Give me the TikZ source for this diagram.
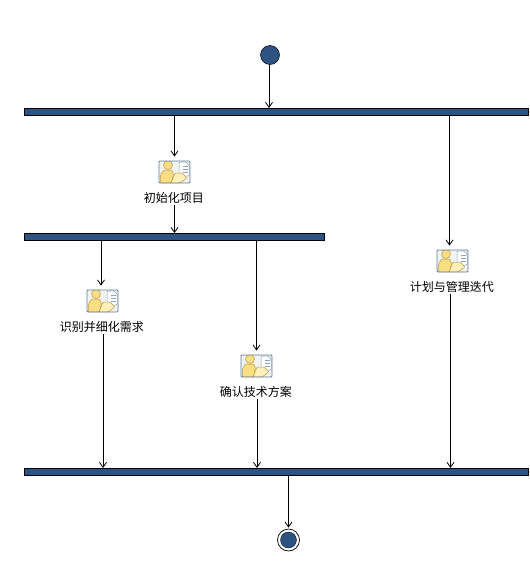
\documentclass[tikz,border=0pt]{standalone}
\usepackage{fontspec}
\setmainfont{Noto Sans CJK SC}
\usetikzlibrary{arrows.meta, positioning}
\definecolor{barblue}{RGB}{45,83,130}
\definecolor{iconfill}{RGB}{240,243,240}
\definecolor{iconedge}{RGB}{95,125,155}
\definecolor{persona}{RGB}{250,222,130}
\definecolor{personb}{RGB}{255,240,185}
\definecolor{personedge}{RGB}{190,150,70}
\tikzset{
  syncbar/.style={draw=black, line width=.6pt, fill=barblue, minimum height=7pt, inner sep=0pt, anchor=north west},
  startdot/.style={circle, draw=black, line width=.5pt, fill=barblue, minimum size=19pt, inner sep=0pt},
  enddot/.style={circle, draw=black, line width=.7pt, minimum size=22pt, inner sep=0pt, fill=white},
  flow/.style={->, line width=.8pt},
  tolabel/.style={font=\fontsize{12pt}{14pt}\selectfont, inner sep=1pt, below=8pt, xshift=-.7pt},
  acticon/.style={rectangle, rounded corners=1pt, draw=iconedge, fill=iconfill, line width=.8pt,
    minimum width=31pt, minimum height=22pt, inner sep=0pt,
    path picture={
      \begin{scope}[shift={(path picture bounding box.center)}, line width=.5pt]
        \fill[white, draw=iconedge!70] (4.5,-10) -- (11.5,-10) -- (14.5,-7) -- (14.5,4) -- (4.5,4) -- cycle;
        \foreach \ty in {-6,-3,0}
          \draw[iconedge!70] (8,\ty) -- (13,\ty);
        \fill[persona, draw=personedge] (-14,11) -- (-14,3) -- (-11,-2) -- (-3,-2) -- (-1,2) -- (-3,11) -- cycle;
        \fill[personb, draw=personedge] (-3.5,11) -- (0.5,1) -- (7.5,1) -- (12.5,6) -- (5.5,11) -- cycle;
        \fill[persona, draw=personedge] (-6.5,-7) circle (4.5);
      \end{scope}
    }},
}
\begin{document}
\begin{tikzpicture}[>={Straight Barb[length=5pt,width=7pt]}, x=1pt, y=-1pt]
\useasboundingbox (0,0) rectangle (530,573);
% bars
\node[syncbar, minimum width=504pt] (top bar) at (24,108) {};
\node[syncbar, minimum width=300pt] (mid bar) at (24,233) {};
\node[syncbar, minimum width=504pt] (low bar) at (24,468) {};
% start and end
\node[startdot] (start) at (270,55) {};
\node[enddot] (end) at (288.5,540) {};
\fill[barblue, draw=black, line width=.3pt] (end) circle (8);
% activities
\node[acticon] (init icon) at (174.5,172) {};
\node[tolabel] (init) at (init icon.south) {初始化项目};
\node[acticon] (req icon) at (102.5,301) {};
\node[tolabel] (req) at (req icon.south) {识别并细化需求};
\node[acticon] (tech icon) at (256.5,366) {};
\node[tolabel] (tech) at (tech icon.south) {确认技术方案};
\node[acticon] (plan icon) at (452.5,261) {};
\node[tolabel] (plan) at (plan icon.south) {计划与管理迭代};
% flows
\draw[flow] ([xshift=-1pt]start.south) -- ([xshift=-1pt]start.south |- top bar.north);
\draw[flow] (init icon |- top bar.south) -- ([yshift=4pt]init icon.north);
\draw[flow] (init icon |- init.south) -- (init icon |- mid bar.north);
\draw[flow] ([xshift=-1.5pt]req icon.north |- mid bar.south) -- ([xshift=-1.5pt, yshift=4pt]req icon.north);
\draw[flow] ([xshift=.5pt]req icon.south |- req.south) -- ([xshift=.5pt]req icon.south |- low bar.north);
\draw[flow] (tech icon |- mid bar.south) -- ([yshift=4pt]tech icon.north);
\draw[flow] ([xshift=.5pt]tech icon.south |- tech.south) -- ([xshift=.5pt]tech icon.south |- low bar.north);
\draw[flow] ([xshift=-3pt]plan icon.north |- top bar.south) -- ([xshift=-3pt, yshift=4pt]plan icon.north);
\draw[flow] ([xshift=-2pt]plan icon.south |- plan.south) -- ([xshift=-2pt]plan icon.south |- low bar.north);
\draw[flow] (end |- low bar.south) -- ([yshift=1pt]end.north);
\end{tikzpicture}
\end{document}
